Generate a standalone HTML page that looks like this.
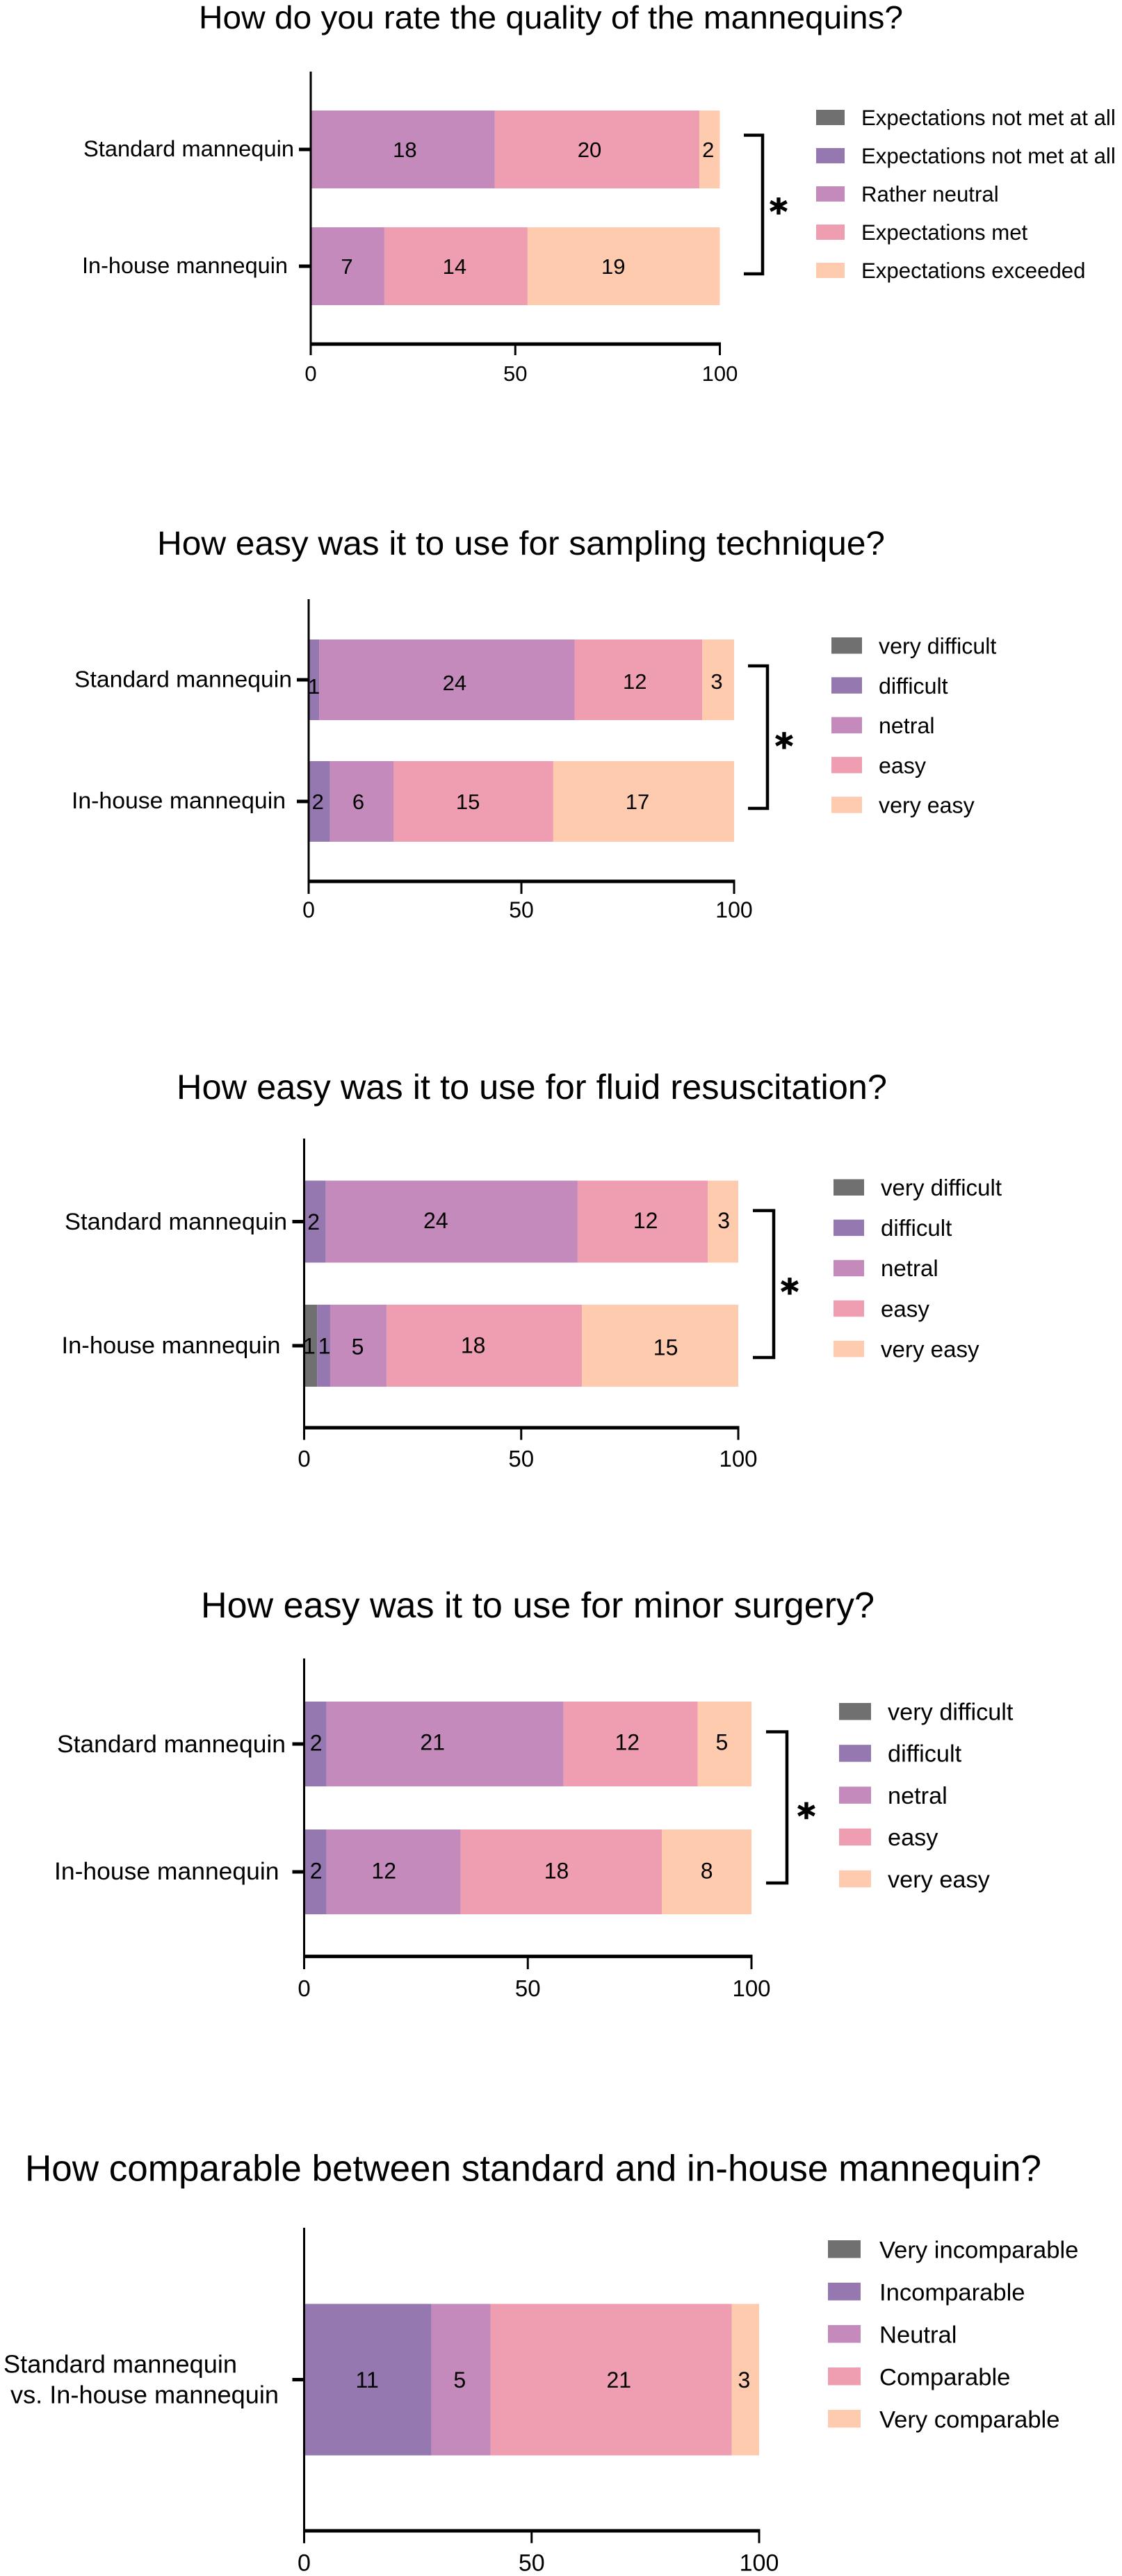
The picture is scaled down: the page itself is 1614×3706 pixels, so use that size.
<!DOCTYPE html>
<html lang="en">
<head>
<meta charset="utf-8">
<title>Mannequin survey charts</title>
<style>
  html, body { margin: 0; padding: 0; background: #ffffff; }
  svg { display: block; font-family: "Liberation Sans", Arial, sans-serif; }
</style>
</head>
<body>
<svg id="figure" xmlns="http://www.w3.org/2000/svg" width="1614" height="3706" viewBox="0 0 1614 3706"></svg>
<script>
// ---------- shared data ----------
const xTickValues = [0, 50, 100];
const easeLegend = ["very difficult", "difficult", "netral", "easy", "very easy"];
const categoriesTwoRows = ["Standard mannequin", "In-house mannequin"];
const seriesColors = ["#707070", "#9678b1", "#c38abb", "#ef9eb1", "#fecbaf"];

// ---------- chart 1: quality ----------
const qualityTitle = "How do you rate the quality of the mannequins?";
const qualityLegend = ["Expectations not met at all", "Expectations not met at all", "Rather neutral", "Expectations met", "Expectations exceeded"];
const qualityStandardPercents = [0, 0, 45, 50, 5];
const qualityInHousePercents = [0, 0, 18, 35, 47];
const qualityStandardPrinted = [0, 0, 18, 20, 2];
const qualityInHousePrinted = [0, 0, 7, 14, 19];

// ---------- chart 2: sampling technique ----------
const samplingTitle = "How easy was it to use for sampling technique?";
const samplingStandardPercents = [0, 2.5, 60, 30, 7.5];
const samplingInHousePercents = [0, 5, 15, 37.5, 42.5];
const samplingStandardPrinted = [0, 1, 24, 12, 3];
const samplingInHousePrinted = [0, 2, 6, 15, 17];

// ---------- chart 3: fluid resuscitation ----------
const fluidTitle = "How easy was it to use for fluid resuscitation?";
const fluidStandardPercents = [0, 5, 58, 30, 7];
const fluidInHousePercents = [3, 3, 13, 45, 36];
const fluidStandardPrinted = [0, 2, 24, 12, 3];
const fluidInHousePrinted = [1, 1, 5, 18, 15];

// ---------- chart 4: minor surgery ----------
const surgeryTitle = "How easy was it to use for minor surgery?";
const surgeryStandardPercents = [0, 5, 53, 30, 12];
const surgeryInHousePercents = [0, 5, 30, 45, 20];
const surgeryStandardPrinted = [0, 2, 21, 12, 5];
const surgeryInHousePrinted = [0, 2, 12, 18, 8];

// ---------- chart 5: comparability ----------
const compareTitle = "How comparable between standard and in-house mannequin?";
const compareCategoryLines = ["Standard mannequin", "vs. In-house mannequin"];
const compareLegend = ["Very incomparable", "Incomparable", "Neutral", "Comparable", "Very comparable"];
const comparePercents = [0, 28, 13, 53, 6];
const comparePrinted = [0, 11, 5, 21, 3];

// ---------- layout (pixels, separate from data) ----------
const qualityLayout = { x0: 447, x1: 1035.5, top: 103, axisY: 495, tickEnd: 511, rows: [215, 383], barH: 112,
  title: [286, 41, 1013, 46], catSize: 32.6, catText: [[120, 225, 303], [118, 393, 296]],
  legend: { x: 1174, w: 41, top: 158, step: 55, h: 22, textX: 1239, size: 31.2 },
  bracket: [1070, 1097, 194.5, 394], star: [1120, 294], tickBase: 548, tickSize: 31, valSize: 31,
  nudge: [[[0,0],[0,0],[3,0],[-11,0],[-2,0]], [[0,0],[0,0],[-1,0],[-2,0],[-15,0]]] };
const samplingLayout = { x0: 444, x1: 1056, top: 862, axisY: 1268, tickEnd: 1286, rows: [978, 1153], barH: 116,
  title: [226, 798, 1047, 48.4], catSize: 33.7, catText: [[107, 988.5, 313], [103, 1163, 308]],
  legend: { x: 1196, w: 44, top: 917, step: 57.3, h: 23.5, textX: 1264, size: 32.2 },
  bracket: [1076, 1104, 958, 1163], star: [1128, 1063], tickBase: 1320, tickSize: 32, valSize: 31,
  nudge: [[[0,0],[0,9],[11,4],[-5,2],[-2,2]], [[0,0],[-2,0],[-5,0],[-8,0],[-9,0]]] };
const fluidLayout = { x0: 437.5, x1: 1062, top: 1638, axisY: 2054, tickEnd: 2071.5, rows: [1757.5, 1936], barH: 118,
  title: [254, 1581, 1022, 50.5], catSize: 34.5, catText: [[93, 1769, 320], [88.5, 1947, 315]],
  legend: { x: 1199, w: 44, top: 1696.5, step: 58.1, h: 23.5, textX: 1267, size: 33.1 },
  bracket: [1083, 1113, 1741.6, 1953], star: [1136, 1848], tickBase: 2110, tickSize: 33, valSize: 32,
  nudge: [[[0,0],[-2,0],[-23,-2],[4,-2],[1,-2]], [[-2,0],[1,0],[-1,1],[-16,-1],[8,2]]] };
const surgeryLayout = { x0: 437.5, x1: 1081, top: 2386, axisY: 2814.6, tickEnd: 2833, rows: [2509, 2693], barH: 122,
  title: [289, 2327, 969, 52], catSize: 35.4, catText: [[82, 2521, 329], [78, 2704, 323.5]],
  legend: { x: 1207, w: 46, top: 2450, step: 60.2, h: 24.5, textX: 1277, size: 34.3 },
  bracket: [1102, 1132, 2491.5, 2709], star: [1160, 2602.5], tickBase: 2872, tickSize: 33, valSize: 32,
  nudge: [[[0,0],[1,-2],[-18,-3],[-5,-3],[-4,-3]], [[0,0],[1,-2],[-14,-2],[-7,-2],[0,-2]]] };
const compareLayout = { x0: 437.5, x1: 1092, top: 3205, axisY: 3641, tickEnd: 3658.7, rows: [3423.5], barH: 218,
  title: [36, 3137.5, 1462, 53], catSize: 36.2, catText: [[5, 3413.5, 336], [15, 3457.6, 386]],
  legend: { x: 1191, w: 47, top: 3223, step: 61, h: 25.5, textX: 1265, size: 34.6 },
  bracket: null, star: null, tickBase: 3698.6, tickSize: 34, valSize: 32,
  nudge: [[[0,0],[-1,0],[-2,0],[11,0],[-2,0]]] };

const charts = [
  { title: qualityTitle, catLines: categoriesTwoRows, legend: qualityLegend, layout: qualityLayout,
    percents: [qualityStandardPercents, qualityInHousePercents], printed: [qualityStandardPrinted, qualityInHousePrinted] },
  { title: samplingTitle, catLines: categoriesTwoRows, legend: easeLegend, layout: samplingLayout,
    percents: [samplingStandardPercents, samplingInHousePercents], printed: [samplingStandardPrinted, samplingInHousePrinted] },
  { title: fluidTitle, catLines: categoriesTwoRows, legend: easeLegend, layout: fluidLayout,
    percents: [fluidStandardPercents, fluidInHousePercents], printed: [fluidStandardPrinted, fluidInHousePrinted] },
  { title: surgeryTitle, catLines: categoriesTwoRows, legend: easeLegend, layout: surgeryLayout,
    percents: [surgeryStandardPercents, surgeryInHousePercents], printed: [surgeryStandardPrinted, surgeryInHousePrinted] },
  { title: compareTitle, catLines: compareCategoryLines, legend: compareLegend, layout: compareLayout,
    percents: [comparePercents], printed: [comparePrinted] }
];

// ---------- drawing ----------
const NS = "http://www.w3.org/2000/svg";
const figure = document.getElementById("figure");

function make(parent, tag, attrs, text) {
  const node = document.createElementNS(NS, tag);
  for (const key in attrs) node.setAttribute(key, attrs[key]);
  if (text !== undefined) node.textContent = text;
  parent.appendChild(node);
  return node;
}

charts.forEach(function (chart) {
  const L = chart.layout;
  const xScale = function (v) { return L.x0 + (L.x1 - L.x0) * v / 100; };

  const group = make(figure, "g", {});
  
  

  // title
  const title = make(group, "text", { x: L.title[0], y: L.title[1], "font-size": L.title[3], fill: "#000",
    textLength: L.title[2], lengthAdjust: "spacingAndGlyphs" }, chart.title);
  
  

  // stacked bars + printed values
  chart.percents.forEach(function (rowPercents, r) {
    let cum = 0;
    rowPercents.forEach(function (pct, s) {
      const start = cum;
      cum = cum + pct;
      if (pct <= 0) return;
      const seg = make(group, "rect", { x: xScale(start), y: L.rows[r] - L.barH / 2,
        width: xScale(cum) - xScale(start), height: L.barH, fill: seriesColors[s] });
      
      
    });
  });

  chart.printed.forEach(function (rowPrinted, r) {
    let cum = 0;
    rowPrinted.forEach(function (count, s) {
      const pct = chart.percents[r][s];
      const mid = cum + pct / 2;
      cum = cum + pct;
      if (!count) return;
      const shift = L.nudge[r][s];
      const label = make(group, "text", { x: xScale(mid) + shift[0], y: L.rows[r] + shift[1] + L.valSize * 0.358,
        "font-size": L.valSize, fill: "#000", "text-anchor": "middle" }, String(count));
      
      
    });
  });

  // y axis
  const yAxis = make(group, "line", { x1: L.x0, x2: L.x0, y1: L.top, y2: L.tickEnd, stroke: "#000", "stroke-width": 3 });
  
  

  L.rows.forEach(function (rowY) {
    const yTick = make(group, "line", { x1: L.x0 - 17, x2: L.x0, y1: rowY, y2: rowY, stroke: "#000", "stroke-width": 5 });
    
    
  });

  chart.catLines.forEach(function (line, i) {
    const place = L.catText[i];
    const cat = make(group, "text", { x: place[0], y: place[1], "font-size": L.catSize, fill: "#000",
      textLength: place[2], lengthAdjust: "spacingAndGlyphs" }, line);
    
    
  });

  // x axis
  const xAxis = make(group, "line", { x1: L.x0 - 1.5, x2: L.x1 + 1.5, y1: L.axisY, y2: L.axisY, stroke: "#000", "stroke-width": 5 });
  
  

  xTickValues.forEach(function (v) {
    const tick = make(group, "line", { x1: xScale(v), x2: xScale(v), y1: L.axisY, y2: L.tickEnd, stroke: "#000", "stroke-width": 3 });
    
    
    const tickText = make(group, "text", { x: xScale(v), y: L.tickBase, "font-size": L.tickSize, fill: "#000", "text-anchor": "middle" }, String(v));
    
    
  });

  // significance bracket
  if (L.bracket) {
    const b = L.bracket;
    const bracket = make(group, "path", { d: "M" + b[0] + " " + b[2] + "H" + b[1] + "V" + b[3] + "H" + b[0],
      fill: "none", stroke: "#000", "stroke-width": 4.5 });
    
    
    const star = make(group, "text", { x: L.star[0], y: L.star[1] + 28, "font-size": 50, "font-weight": "bold", fill: "#000",
      stroke: "#000", "stroke-width": 1.2, "text-anchor": "middle", style: 'font-family:"DejaVu Sans",sans-serif' }, "*");
    
    
  }

  // legend
  chart.legend.forEach(function (entry, i) {
    const lg = L.legend;
    const y = lg.top + lg.step * i;
    const swatch = make(group, "rect", { x: lg.x, y: y, width: lg.w, height: lg.h, fill: seriesColors[i] });
    
    
    const text = make(group, "text", { x: lg.textX, y: y + lg.h, "font-size": lg.size, fill: "#000" }, entry);
    
    
  });
});
</script>
</body>
</html>
